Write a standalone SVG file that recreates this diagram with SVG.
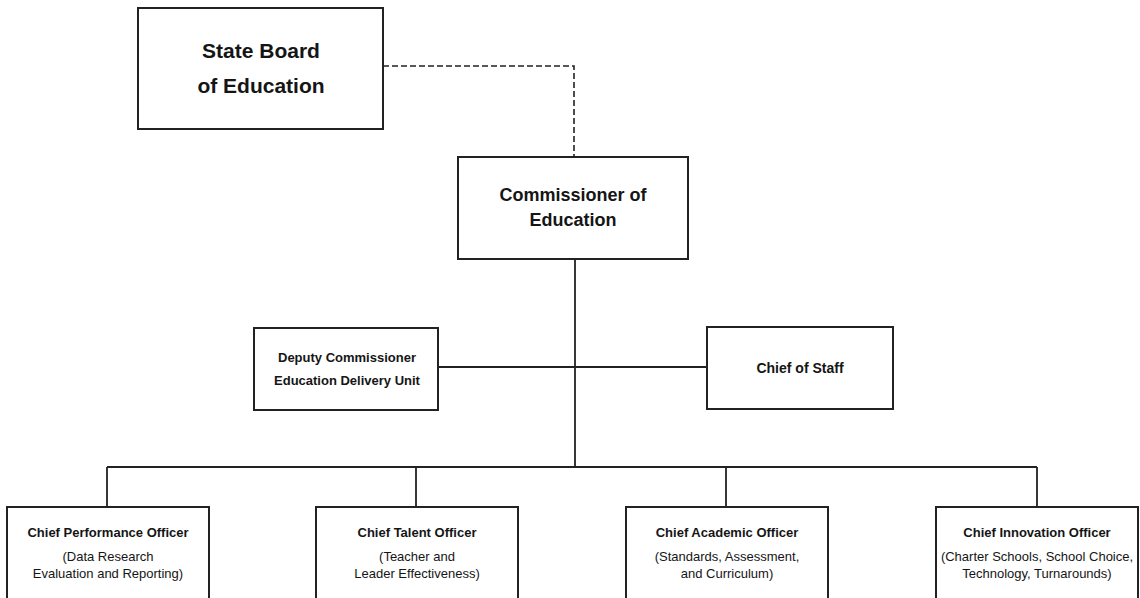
<svg xmlns="http://www.w3.org/2000/svg" width="1140" height="598" viewBox="0 0 1140 598">
<style>
.box{fill:#fff;stroke:#222;stroke-width:2}
.ln{fill:none;stroke:#222;stroke-width:1.8}
.dash{fill:none;stroke:#222;stroke-width:1.6;stroke-dasharray:6 3}
text{font-family:"Liberation Sans",Arial,sans-serif;fill:#151515;text-anchor:middle}
.big{font-size:21px;font-weight:bold}
.mid{font-size:18px;font-weight:bold}
.sm{font-size:13px;font-weight:bold}
.sub{font-size:13px}
</style>
<rect width="1140" height="598" fill="#fff"/>
<g id="connectors">
<polyline class="dash" points="383,66 574,66 574,157"/>
<line class="ln" x1="575" y1="259" x2="575" y2="467"/>
<line class="ln" x1="438" y1="367" x2="707" y2="367"/>
<line class="ln" x1="107" y1="467" x2="1037" y2="467"/>
<line class="ln" x1="107" y1="467" x2="107" y2="507"/>
<line class="ln" x1="416" y1="467" x2="416" y2="507"/>
<line class="ln" x1="726" y1="467" x2="726" y2="507"/>
<line class="ln" x1="1037" y1="467" x2="1037" y2="507"/>
</g>
<g id="state-board">
<rect class="box" x="138" y="8" width="245" height="121"/>
<text class="big" x="261" y="58">State Board</text>
<text class="big" x="261" y="93">of Education</text>
</g>
<g id="commissioner">
<rect class="box" x="458" y="157" width="230" height="102"/>
<text class="mid" x="573" y="201">Commissioner of</text>
<text class="mid" x="573" y="226">Education</text>
</g>
<g id="deputy">
<rect class="box" x="254" y="328" width="184" height="82"/>
<text class="sm" x="347" y="362">Deputy Commissioner</text>
<text class="sm" x="347" y="385">Education Delivery Unit</text>
</g>
<g id="chief-of-staff">
<rect class="box" x="707" y="327" width="186" height="82"/>
<text class="sm" x="800" y="373" style="font-size:14px">Chief of Staff</text>
</g>
<g id="performance">
<rect class="box" x="7" y="507" width="202" height="100"/>
<text class="sm" x="108" y="537">Chief Performance Officer</text>
<text class="sub" x="108" y="561">(Data Research</text>
<text class="sub" x="108" y="578">Evaluation and Reporting)</text>
</g>
<g id="talent">
<rect class="box" x="316" y="507" width="202" height="100"/>
<text class="sm" x="417" y="537">Chief Talent Officer</text>
<text class="sub" x="417" y="561">(Teacher and</text>
<text class="sub" x="417" y="578">Leader Effectiveness)</text>
</g>
<g id="academic">
<rect class="box" x="626" y="507" width="202" height="100"/>
<text class="sm" x="727" y="537">Chief Academic Officer</text>
<text class="sub" x="727" y="561">(Standards, Assessment,</text>
<text class="sub" x="727" y="578">and Curriculum)</text>
</g>
<g id="innovation">
<rect class="box" x="936" y="507" width="202" height="100"/>
<text class="sm" x="1037" y="537">Chief Innovation Officer</text>
<text class="sub" x="1037" y="561">(Charter Schools, School Choice,</text>
<text class="sub" x="1037" y="578">Technology, Turnarounds)</text>
</g>
</svg>
